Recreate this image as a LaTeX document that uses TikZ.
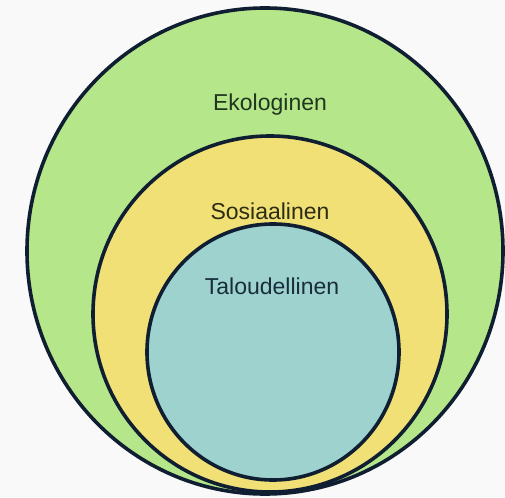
\documentclass[tikz,border=0pt]{standalone}
\usepackage{fontspec}
\setmainfont{Liberation Sans}
\definecolor{bg}{RGB}{249,249,250}
\definecolor{ekogreen}{RGB}{182,230,138}
\definecolor{sosyellow}{RGB}{240,224,118}
\definecolor{talblue}{RGB}{158,210,206}
\definecolor{ringline}{RGB}{16,30,50}
\definecolor{txtg}{RGB}{30,55,30}
\definecolor{txty}{RGB}{45,45,20}
\definecolor{txtb}{RGB}{25,45,60}
\tikzset{
  ring/.style={draw=ringline, line width=3.6pt},
  lbl/.style={font=\fontsize{23}{26}\selectfont, inner sep=0pt}
}
\begin{document}
\begin{tikzpicture}[x=1pt,y=-1pt]
\useasboundingbox (0,0) rectangle (505,497);
\fill[bg] (0,0) rectangle (505,497);
\filldraw[ring, fill=ekogreen] (265,251) ellipse [x radius=238, y radius=243];
\filldraw[ring, fill=sosyellow] (270,314) ellipse [x radius=177, y radius=178];
\filldraw[ring, fill=talblue] (273,352) ellipse [x radius=126, y radius=128];
\node[lbl, text=txtg] (eko) at (270,105) {Ekologinen};
\node[lbl, text=txty] (sos) at (270,211) {Sosiaalinen};
\node[lbl, text=txtb] (tal) at (272,286) {Taloudellinen};
\end{tikzpicture}
\end{document}
